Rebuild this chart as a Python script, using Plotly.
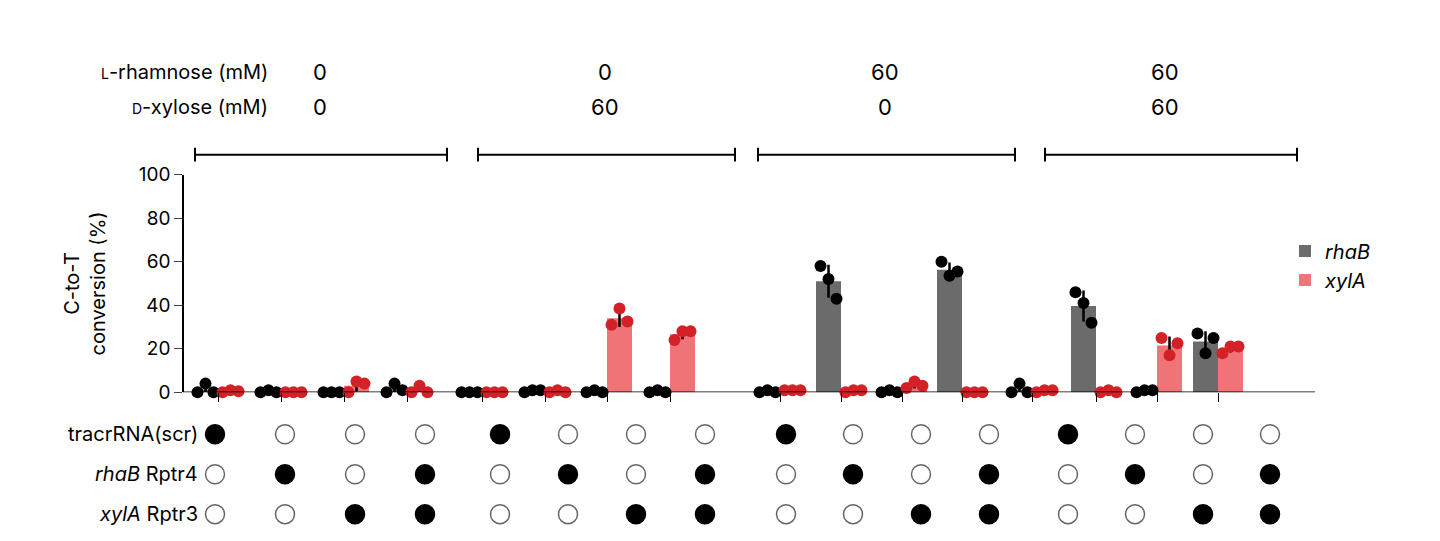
import numpy as np
import plotly.graph_objects as go

# replicate values (%) per condition, 16 conditions
rhab_reps = [[0, 4, 0], [0, 1, 0], [0, 0, 0], [0, 4, 1],
             [0, 0, 0], [0, 1, 1], [0, 1, 0], [0, 1, 0],
             [0, 1, 0], [58, 52, 43], [0, 1, 0], [60, 53.5, 55.5],
             [0, 4, 0], [46, 41, 32], [0, 1, 1], [27, 18, 25]]
xyla_reps = [[0, 1, 0.5], [0, 0, 0], [0, 5, 4], [0, 3, 0],
             [0, 0, 0], [0, 1, 0], [31, 38.5, 32.5], [24, 28, 28],
             [1, 1, 1], [0, 1, 1], [2, 5, 3], [0, 0, 0],
             [0, 1, 1], [0, 1, 0], [25, 17, 22.5], [18, 21, 21]]

tracr_on = [1, 0, 0, 0, 1, 0, 0, 0, 1, 0, 0, 0, 1, 0, 0, 0]
rhab_on = [0, 1, 0, 1] * 4
xyla_on = [0, 0, 1, 1] * 4
row_labels = ["tracrRNA(scr)", "<i>rhaB</i> Rptr4", "<i>xylA</i> Rptr3"]

rham_vals = ["0", "0", "60", "60"]
xyl_vals = ["0", "60", "0", "60"]

# layout positions (x axis is in page pixels)
bar_x = np.array([218, 281, 344, 407, 482, 545, 607, 670,
                  780, 841, 902, 962, 1032, 1096, 1157, 1218])
dot_x = [215, 285, 355, 425, 500, 568, 636, 705,
         786, 853, 921, 989, 1068, 1135, 1203, 1270]
block_x = [(195, 447), (478, 735), (758, 1015), (1045, 1297)]
head_x = [320, 605, 885, 1165]

W, H = 1440, 541
GREY, PINK, RED = "#6b6b6b", "#f07378", "#d42027"
bw = 25


def Y(p):
    # screen pixel row -> paper fraction (corrected for page offset/scale)
    return 1 - ((p - 19.2) / 0.9587) / H


fig = go.Figure()
for reps, color, dcol, off, name in [(rhab_reps, GREY, "black", -12.5, "<i>rhaB</i>"),
                                     (xyla_reps, PINK, RED, 12.5, "<i>xylA</i>")]:
    arr = np.array(reps, dtype=float)
    means = arr.mean(axis=1)
    sds = arr.std(axis=1, ddof=1)
    xs = bar_x + off
    fig.add_trace(go.Bar(x=xs, y=means, width=bw, marker=dict(color=color, line_width=0),
                         name=name, showlegend=True))
    ex, ey = [], []
    for x, m, s in zip(xs, means, sds):
        ex += [x, x, None]
        ey += [max(m - s, 0), m + s, None]
    fig.add_trace(go.Scatter(x=ex, y=ey, mode="lines", line=dict(color="black", width=2.5),
                             showlegend=False, hoverinfo="skip", cliponaxis=False))
    px_, py_ = [], []
    for x, r in zip(xs, reps):
        for k, v in enumerate(r):
            px_.append(x + (k - 1) * 8)
            py_.append(v)
    fig.add_trace(go.Scatter(x=px_, y=py_, mode="markers", marker=dict(color=dcol, size=12),
                             showlegend=False, cliponaxis=False))

# circle matrix
for row, states in enumerate([tracr_on, rhab_on, xyla_on]):
    fig.add_trace(go.Scatter(
        x=dot_x, y=[row] * 16, yaxis="y2", mode="markers", showlegend=False, cliponaxis=False,
        marker=dict(size=19, color=["black" if s else "white" for s in states],
                    line=dict(color=["black" if s else "#666666" for s in states], width=1.5))))
    fig.add_annotation(x=200, y=row, yref="y2", text=row_labels[row], showarrow=False,
                       xanchor="right", yanchor="middle", font=dict(size=20, color="black"))

shapes = [dict(type="line", xref="x", yref="y", x0=183, x1=1315, y0=0, y1=0,
               line=dict(color="black", width=1.5))]
for (a, b) in block_x:
    ypb = Y(155)
    shapes.append(dict(type="line", xref="x", yref="paper", x0=a, x1=b, y0=ypb, y1=ypb,
                       line=dict(color="black", width=2)))
    for xx in (a, b):
        shapes.append(dict(type="line", xref="x", yref="paper", x0=xx, x1=xx,
                           y0=Y(162), y1=Y(148), line=dict(color="black", width=2)))

fig.add_annotation(x=270, y=Y(72), yref="paper", showarrow=False, xanchor="right", yanchor="middle",
                   text="<span style='font-size:14px'>L</span>-rhamnose (mM)", font=dict(size=20))
fig.add_annotation(x=270, y=Y(107), yref="paper", showarrow=False, xanchor="right", yanchor="middle",
                   text="<span style='font-size:14px'>D</span>-xylose (mM)", font=dict(size=20))
for hx, rv, xv in zip(head_x, rham_vals, xyl_vals):
    fig.add_annotation(x=hx, y=Y(72), yref="paper", showarrow=False, yanchor="middle",
                       text=rv, font=dict(size=22))
    fig.add_annotation(x=hx, y=Y(107), yref="paper", showarrow=False, yanchor="middle",
                       text=xv, font=dict(size=22))
fig.add_annotation(x=85, y=Y(284), yref="paper", showarrow=False, textangle=-90,
                   xanchor="center", yanchor="middle",
                   text="C-to-T<br>conversion (%)", font=dict(size=20))

bottom_screen = 19.2 + 0.9587 * H
fig.update_layout(
    width=W, height=H, margin=dict(l=0, r=0, t=0, b=0),
    plot_bgcolor="white", paper_bgcolor="white", barmode="overlay",
    font=dict(family="Inter, Roboto, sans-serif", color="black"),
    shapes=shapes,
    xaxis=dict(range=[8, W + 8], showgrid=False, zeroline=False, showline=False,
               tickvals=list(bar_x), ticktext=[""] * 16, ticks="outside", ticklen=9,
               tickcolor="black", anchor="y"),
    yaxis=dict(domain=[Y(393), Y(175)], range=[0, 100], tickvals=[0, 20, 40, 60, 80, 100],
               showgrid=False, zeroline=False, showline=True, linecolor="black", linewidth=1.5,
               ticks="outside", ticklen=8, anchor="free", position=(183 - 8) / W,
               tickfont=dict(size=19)),
    yaxis2=dict(domain=[0, Y(393)], range=[(bottom_screen - 435) / 40, -(435 - 393) / 40],
                visible=False, anchor="x"),
    legend=dict(x=(1285 - 8) / W, y=Y(232), xanchor="left", yanchor="top",
                font=dict(size=20), itemwidth=30, tracegroupgap=8),
)

fig.write_html("out.html")
